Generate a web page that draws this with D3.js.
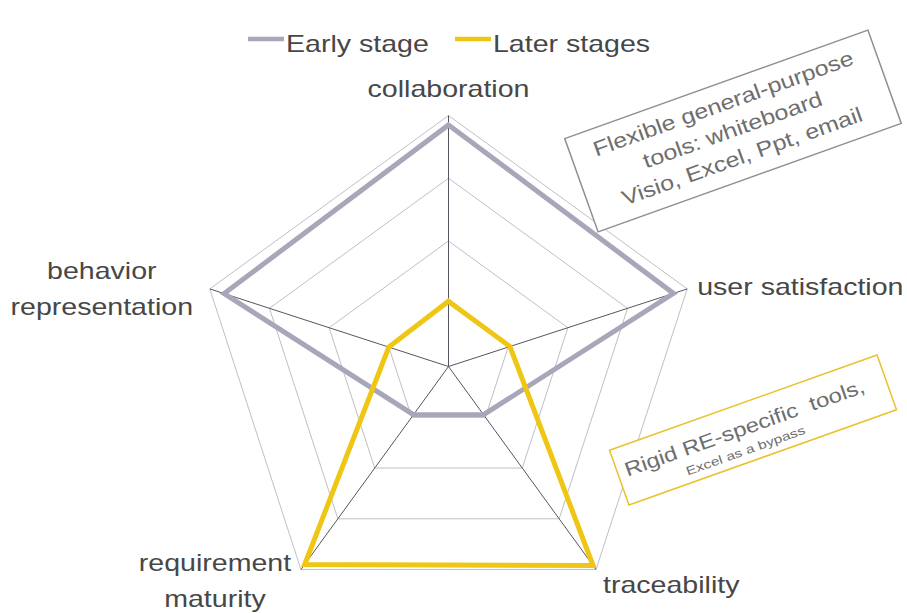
<!DOCTYPE html>
<html>
<head>
<meta charset="utf-8">
<script src="https://cdnjs.cloudflare.com/ajax/libs/d3/7.8.5/d3.min.js"></script>
<style>
  body { margin: 0; background: #fff; }
  text { font-family: "Liberation Sans", Arial, sans-serif; fill: #474747; }
  .note text { fill: #6e6e6e; white-space: pre; }
</style>
</head>
<body>
<div id="chart"></div>
<script>
// axes clockwise from the top
const axes = ["collaboration", "user satisfaction", "traceability", "requirement maturity", "behavior representation"];
const axisLabels = [["collaboration"], ["user satisfaction"], ["traceability"], ["requirement", "maturity"], ["behavior", "representation"]];
const seriesNames = ["Early stage", "Later stages"];
const earlyStage = [3.85, 3.77, 0.95, 0.95, 3.76];
const laterStages = [1.04, 1.03, 3.92, 3.9, 1.0];
const levels = [1, 2, 3, 4];
const noteFlexible = ["Flexible general-purpose", "tools: whiteboard", "Visio, Excel, Ppt, email"];
const noteRigid = ["Rigid RE-specific  tools,", "Excel as a bypass"];

const width = 907, height = 613;
const cx = 448.5, cy = 366.5, radius = 251;
const sx = 1.19; // glyphs in the picture are drawn wide

const svg = d3.select("#chart").append("svg")
    .attr("width", width)
    .attr("height", height);

const r = d3.scaleLinear().domain([0, 4]).range([0, radius]);
const angle = d3.scalePoint().domain(axes).range([0, 2 * Math.PI * 4 / 5]);

function pt(axis, v) {
    const a = angle(axis);
    return [cx + r(v) * Math.sin(a), cy - r(v) * Math.cos(a)];
}

function wideText(g, x, y, str, size, anchor, sxx) {
    return g.append("g")
        .attr("transform", "translate(" + x + "," + y + ") scale(" + (sxx || sx) + ",1)")
        .append("text")
        .attr("text-anchor", anchor || "start")
        .style("font-size", size + "px")
        .text(str);
}

// grid rings
svg.append("g").selectAll("polygon")
    .data(levels)
    .enter().append("polygon")
    .attr("points", d => axes.map(a => pt(a, d).join(",")).join(" "))
    .attr("fill", "none")
    .attr("stroke", "#bfbfc6")
    .attr("stroke-width", 1);

// spokes
svg.append("g").selectAll("line")
    .data(axes)
    .enter().append("line")
    .attr("x1", cx).attr("y1", cy)
    .attr("x2", d => pt(d, 4)[0])
    .attr("y2", d => pt(d, 4)[1])
    .attr("stroke", "#55555e")
    .attr("stroke-width", 1);

const line = d3.lineRadial()
    .angle((d, i) => angle(axes[i]))
    .radius(d => r(d))
    .curve(d3.curveLinearClosed);

const series = [
    { name: seriesNames[0], values: earlyStage, color: "#a7a7b9" },
    { name: seriesNames[1], values: laterStages, color: "#f0c614" }
];

svg.append("g")
    .attr("transform", "translate(" + cx + "," + cy + ")")
    .selectAll("path")
    .data(series)
    .enter().append("path")
    .attr("d", d => line(d.values))
    .attr("fill", "none")
    .attr("stroke", d => d.color)
    .attr("stroke-width", 5)
    .attr("stroke-linejoin", "miter");

// axis labels
const labelPos = [
    { dx: 0, dy: -19, anchor: "middle" },
    { dx: 10, dy: 6, anchor: "start" },
    { dx: 7, dy: 23, anchor: "start" },
    { dx: -86, dy: 1, anchor: "middle" },
    { dx: -108, dy: -10, anchor: "middle" }
];
const labels = svg.append("g");
axes.forEach((a, i) => {
    const p = pt(a, 4);
    axisLabels[i].forEach((s, j) => {
        wideText(labels, p[0] + labelPos[i].dx, p[1] + labelPos[i].dy + j * 36, s, 24, labelPos[i].anchor);
    });
});

// legend
const legend = svg.append("g");
const legendX = [248, 455];
series.forEach((s, i) => {
    legend.append("line")
        .attr("x1", legendX[i]).attr("x2", legendX[i] + 36)
        .attr("y1", 39).attr("y2", 39)
        .attr("stroke", s.color)
        .attr("stroke-width", 4.5);
    wideText(legend, legendX[i] + 38, 52, s.name, 24, "start");
});

// annotation boxes
function note(x, y, w, h, rot, stroke, lines) {
    const g = svg.append("g")
        .attr("class", "note")
        .attr("transform", "translate(" + x + "," + y + ") rotate(" + rot + ")");
    g.append("rect")
        .attr("x", -w / 2).attr("y", -h / 2)
        .attr("width", w).attr("height", h)
        .attr("fill", "#fff")
        .attr("stroke", stroke)
        .attr("stroke-width", 1.5);
    lines.forEach(l => wideText(g, l.x, l.y, l.text, l.size, l.anchor, l.sx));
}

note(733, 131, 322, 99, -19.7, "#8e8e95", [
    { text: noteFlexible[0], x: 0, y: -22, size: 21, anchor: "middle" },
    { text: noteFlexible[1], x: 0, y: 6, size: 21, anchor: "middle" },
    { text: noteFlexible[2], x: 0, y: 34, size: 21, anchor: "middle" }
]);

note(753, 430, 284, 58, -19.6, "#e8c22a", [
    { text: noteRigid[0], x: -134, y: 2, size: 20, anchor: "start", sx: 1.2 },
    { text: noteRigid[1], x: -14, y: 21, size: 12, anchor: "middle", sx: 1.3 }
]);
</script>
</body>
</html>
